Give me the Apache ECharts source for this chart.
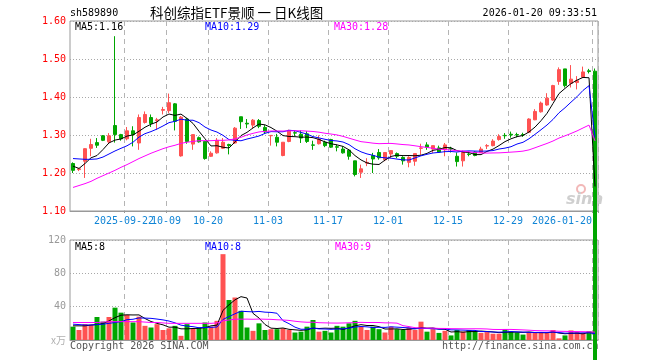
<!DOCTYPE html>
<html><head><meta charset="utf-8">
<script src="https://cdn.jsdelivr.net/npm/echarts@6/dist/echarts.min.js"></script>
<style>html,body{margin:0;padding:0;background:#fff}#c{width:660px;height:360px}</style>
</head><body><div id="c"></div><script>
const dates = ['2025-09-09','2025-09-10','2025-09-11','2025-09-12','2025-09-15','2025-09-16','2025-09-17','2025-09-18','2025-09-19','2025-09-22','2025-09-23','2025-09-24','2025-09-25','2025-09-26','2025-09-29','2025-09-30','2025-10-09','2025-10-10','2025-10-13','2025-10-14','2025-10-15','2025-10-16','2025-10-17','2025-10-20','2025-10-21','2025-10-22','2025-10-23','2025-10-24','2025-10-27','2025-10-28','2025-10-29','2025-10-30','2025-10-31','2025-11-03','2025-11-04','2025-11-05','2025-11-06','2025-11-07','2025-11-10','2025-11-11','2025-11-12','2025-11-13','2025-11-14','2025-11-17','2025-11-18','2025-11-19','2025-11-20','2025-11-21','2025-11-24','2025-11-25','2025-11-26','2025-11-27','2025-11-28','2025-12-01','2025-12-02','2025-12-03','2025-12-04','2025-12-05','2025-12-08','2025-12-09','2025-12-10','2025-12-11','2025-12-12','2025-12-15','2025-12-16','2025-12-17','2025-12-18','2025-12-19','2025-12-22','2025-12-23','2025-12-24','2025-12-25','2025-12-26','2025-12-29','2025-12-30','2025-12-31','2026-01-05','2026-01-06','2026-01-07','2026-01-08','2026-01-09','2026-01-12','2026-01-13','2026-01-14','2026-01-15','2026-01-16','2026-01-19','2026-01-20'];
const tickDates = ['2025-09-22','2025-10-09','2025-10-20','2025-11-03','2025-11-17','2025-12-01','2025-12-15','2025-12-29','2026-01-20'];
const tickLabels = ['2025-09-22','10-09','10-20','11-03','11-17','12-01','12-15','12-29','2026-01-20'];
const priceTicks = [1.10, 1.60, 0.10];
const volTicks = [0, 120, 40];

const opens = [1.225,1.209,1.231,1.265,1.280,1.298,1.282,1.325,1.301,1.290,
 1.311,1.279,1.333,1.346,1.338,1.365,1.364,1.382,1.245,1.342,
 1.276,1.293,1.283,1.244,1.253,1.265,1.275,1.279,1.348,1.331,
 1.326,1.338,1.320,1.298,1.294,1.246,1.283,1.306,1.302,1.303,
 1.274,1.277,1.281,1.288,1.269,1.263,1.260,1.232,1.202,1.226,
 1.246,1.254,1.235,1.250,1.251,1.241,1.228,1.231,1.265,1.274,
 1.263,1.266,1.261,1.264,1.244,1.232,1.250,1.255,1.254,1.271,
 1.272,1.288,1.299,1.302,1.301,1.301,1.307,1.340,1.361,1.379,
 1.392,1.441,1.474,1.436,1.438,1.452,1.469,1.468];
const closes = [1.207,1.211,1.264,1.275,1.273,1.286,1.298,1.301,1.290,1.311,
 1.301,1.346,1.354,1.330,1.340,1.367,1.385,1.336,1.347,1.283,
 1.301,1.282,1.238,1.252,1.286,1.281,1.272,1.318,1.335,1.329,
 1.339,1.323,1.308,1.299,1.281,1.281,1.312,1.305,1.292,1.283,
 1.273,1.289,1.272,1.268,1.268,1.253,1.244,1.196,1.211,1.228,
 1.237,1.240,1.254,1.259,1.244,1.232,1.241,1.251,1.266,1.268,
 1.272,1.255,1.274,1.263,1.230,1.254,1.249,1.246,1.263,1.272,
 1.284,1.296,1.298,1.300,1.300,1.300,1.342,1.362,1.384,1.397,
 1.430,1.472,1.430,1.447,1.443,1.466,1.467,0];
const lows = [1.200,1.205,1.187,1.244,1.266,1.284,1.277,1.280,1.285,1.286,
 1.270,1.261,1.330,1.321,1.314,1.354,1.358,1.312,1.243,1.277,
 1.261,1.280,1.235,1.242,1.251,1.263,1.249,1.277,1.316,1.318,
 1.318,1.318,1.303,1.272,1.270,1.244,1.281,1.297,1.279,1.279,
 1.261,1.275,1.268,1.266,1.257,1.251,1.235,1.191,1.187,1.218,
 1.200,1.235,1.231,1.239,1.239,1.222,1.215,1.219,1.248,1.261,
 1.253,1.253,1.244,1.254,1.217,1.217,1.244,1.244,1.253,1.263,
 1.270,1.285,1.290,1.293,1.294,1.295,1.305,1.339,1.359,1.377,
 1.390,1.432,1.425,1.425,1.420,1.450,1.462,0];
const highs = [1.228,1.213,1.265,1.290,1.292,1.300,1.305,1.560,1.303,1.321,
 1.323,1.354,1.362,1.354,1.345,1.374,1.409,1.384,1.350,1.345,
 1.301,1.296,1.283,1.257,1.292,1.292,1.277,1.321,1.348,1.342,
 1.342,1.342,1.326,1.300,1.303,1.281,1.314,1.312,1.312,1.310,
 1.285,1.299,1.285,1.290,1.275,1.270,1.263,1.232,1.222,1.239,
 1.253,1.263,1.254,1.259,1.254,1.244,1.244,1.251,1.277,1.281,
 1.272,1.272,1.279,1.269,1.254,1.259,1.256,1.257,1.269,1.276,
 1.289,1.302,1.305,1.309,1.306,1.306,1.344,1.368,1.388,1.410,
 1.432,1.478,1.474,1.484,1.455,1.480,1.474,1.475];
const volumes = [16,12,19,18,27.6,22,27.6,38.8,32.8,30,
 21,28,17,15,19,12,14,17,5,19,
 14,15,21,16,23,103,48,51,35,15,
 11,20,12,13,13,14,12,9,10,16,
 24,10,11,9,17,16,20,23,16,12,
 16,13,9,16,13,12,15,12,22,10,
 13,8.5,11,5.5,12,10,12,11,8.5,9.5,
 7.5,7.5,13,10,9,6.5,9.5,9.5,9.5,8.5,
 12,2,5.5,11.5,9.5,8.5,10.5,0];
// moving-average values before a full window exists
const ma5Head = [1.218,1.212,1.225,1.240];
const ma10Head = [1.238,1.237,1.236,1.236,1.237,1.242,1.250,1.258,1.265];
const ma30Head = [1.162,1.167,1.172,1.178,1.186,1.193,1.200,1.207,1.215,1.222,1.230,1.238,1.245,1.252,1.258,1.264,1.269,1.273,1.278,1.281,1.283,1.285,1.285,1.285,1.286,1.286,1.287,1.290,1.294];
const vma5Head = [17,17,17,18];
const vma10Head = [19,18.5,18,18,18.5,19,20,21,22];
const vma30Head = [21,21,21,21,21,21.5,22,22,22,22,22,22,21.5,21,21,20.5,20,20,20,20,20,20,20,20,20.5,23,24,25,25];

function ma(n, arr, head) {
  return arr.map((v, i) => {
    if (i < n - 1) return head[i];
    let s = 0; for (let k = i - n + 1; k <= i; k++) s += arr[k];
    return s / n;
  });
}
const N = dates.length;
const last = N - 1;
const ma5 = ma(5, closes, ma5Head), ma10 = ma(10, closes, ma10Head), ma30 = ma(30, closes, ma30Head);
const vma5 = ma(5, volumes, vma5Head), vma10 = ma(10, volumes, vma10Head), vma30 = ma(30, volumes, vma30Head);

const mono = 'DejaVu Sans Mono';
const LBL = '#1185d6';
const mctx = document.createElement('canvas').getContext('2d');
mctx.font = '10px "DejaVu Sans Mono"';
const tickIdx = {};
const rich = { z: { color: LBL, fontFamily: mono, fontSize: 10 } };
tickDates.forEach((d, k) => {
  const i = dates.indexOf(d);
  tickIdx[i] = k;
  const w = mctx.measureText(tickLabels[k]).width;
  // label centred on the band boundary (half a band left of the band centre)
  rich['t' + k] = (i === last)
    ? { padding: [0, Math.round(w + 6), 0, 0], color: LBL, fontFamily: mono, fontSize: 10 }
    : { width: Math.max(1, w - 6), align: 'right', color: LBL, fontFamily: mono, fontSize: 10 };
});
const isTick = (i) => tickIdx[i] !== undefined;
// index 0 carries an empty label so the first real label is not auto-hidden
const isLabel = (i) => i === 0 || isTick(i);

const RED = '#ff5252', GREEN = '#00a600';
const gridLine = { show: true, interval: isTick, lineStyle: { color: '#b4b4b4', type: [5, 4], width: 1 } };
const hLine = { show: true, lineStyle: { color: '#a8a8a8', type: [1, 2], width: 1 } };

const chart = echarts.init(document.getElementById('c'));
const txt = (x, y, text, color, extra) => ({ type: 'text', z: 1, style: Object.assign({ x, y, text, fill: color, font: '10px "DejaVu Sans Mono"', verticalAlign: 'middle' }, extra || {}) });

chart.setOption({
  animation: false,
  grid: [
    { left: 70, top: 21, width: 528, height: 190, show: true, borderColor: '#999', borderWidth: 1 },
    { left: 70, top: 240, width: 528, height: 100, show: true, borderColor: '#999', borderWidth: 1 }
  ],
  xAxis: [
    { type: 'category', gridIndex: 0, data: dates, boundaryGap: true,
      axisLine: { lineStyle: { color: '#999' } },
      axisTick: { show: true, interval: isTick, length: 2, lineStyle: { color: '#999' } },
      axisLabel: { interval: isLabel, margin: 5, color: LBL, fontFamily: mono, fontSize: 10, hideOverlap: false,
        formatter: (v, i) => (isTick(i) ? '{t' + tickIdx[i] + '|' + tickLabels[tickIdx[i]] + '}' : '{z| }'),
        rich: rich },
      splitLine: gridLine },
    { type: 'category', gridIndex: 1, data: dates, boundaryGap: true,
      axisLine: { lineStyle: { color: '#999' } }, axisTick: { show: false }, axisLabel: { show: false },
      splitLine: gridLine }
  ],
  yAxis: [
    { type: 'value', gridIndex: 0, min: priceTicks[0], max: priceTicks[1], interval: priceTicks[2],
      axisLine: { show: false }, axisTick: { show: false },
      axisLabel: { color: '#ff0000', fontFamily: mono, fontSize: 10, margin: 4, formatter: v => v.toFixed(2) },
      splitLine: hLine },
    { type: 'value', gridIndex: 1, min: volTicks[0], max: volTicks[1], interval: volTicks[2],
      axisLine: { show: false }, axisTick: { show: false },
      axisLabel: { color: '#999', fontFamily: mono, fontSize: 10, margin: 4,
        formatter: v => (v === 0 ? '{u|x万}' : String(v)),
        rich: { u: { color: '#b0b0b0', fontFamily: 'Noto Sans CJK SC', fontSize: 10 } } },
      splitLine: hLine }
  ],
  series: [
    { type: 'candlestick', xAxisIndex: 0, yAxisIndex: 0, clip: false, z: 3, barWidth: 4,
      data: dates.map((d, i) => [opens[i], closes[i], lows[i], highs[i]]),
      itemStyle: { color: RED, color0: GREEN, borderColor: RED, borderColor0: GREEN, borderWidth: 1 } },
    { type: 'line', xAxisIndex: 0, yAxisIndex: 0, data: ma5, symbol: 'none', z: 4, lineStyle: { color: '#000', width: 1 } },
    { type: 'line', xAxisIndex: 0, yAxisIndex: 0, data: ma10, symbol: 'none', z: 4, lineStyle: { color: '#0000ff', width: 1 } },
    { type: 'line', xAxisIndex: 0, yAxisIndex: 0, data: ma30, symbol: 'none', z: 4, lineStyle: { color: '#ff00ff', width: 1 } },
    { type: 'bar', xAxisIndex: 1, yAxisIndex: 1, z: 2, barWidth: 5,
      data: volumes.map((v, i) => ({ value: v, itemStyle: { color: closes[i] >= opens[i] ? RED : GREEN } })) },
    { type: 'line', xAxisIndex: 1, yAxisIndex: 1, data: vma5, symbol: 'none', z: 4, lineStyle: { color: '#000', width: 1 } },
    { type: 'line', xAxisIndex: 1, yAxisIndex: 1, data: vma10, symbol: 'none', z: 4, lineStyle: { color: '#0000ff', width: 1 } },
    { type: 'line', xAxisIndex: 1, yAxisIndex: 1, data: vma30, symbol: 'none', z: 4, lineStyle: { color: '#ff00ff', width: 1 } }
  ],
  graphic: [
    txt(70, 13, 'sh589890', '#000'),
    { type: 'text', z: 1, style: { x: 150, y: 13, text: '科创综指ETF景顺 一 日K线图', fill: '#000', font: '13.5px "Noto Sans CJK SC"', verticalAlign: 'middle' } },
    txt(597, 13, '2026-01-20 09:33:51', '#000', { align: 'right' }),
    txt(75, 27, 'MA5:' + ma5[last].toFixed(2), '#000'),
    txt(205, 27, 'MA10:' + ma10[last].toFixed(2), '#0000ff'),
    txt(334, 27, 'MA30:' + ma30[last].toFixed(2), '#ff00ff'),
    txt(75, 247, 'MA5:' + Math.round(vma5[last]), '#000'),
    txt(205, 247, 'MA10:' + Math.round(vma10[last]), '#0000ff'),
    txt(335, 247, 'MA30:' + Math.round(vma30[last]), '#ff00ff'),
    txt(70, 346, 'Copyright 2026 SINA.COM', '#555'),
    txt(442, 346, 'http://finance.sina.com.cn', '#555'),
    { type: 'circle', z: 1, shape: { cx: 581, cy: 189, r: 4 }, style: { fill: 'none', stroke: '#f2b8b8', lineWidth: 2 } },
    { type: 'text', z: 1, style: { x: 566, y: 200, text: 'sina', fill: '#cfcfcf', font: 'italic bold 16px "DejaVu Sans"', verticalAlign: 'middle' } }
  ]
});
</script></body></html>
